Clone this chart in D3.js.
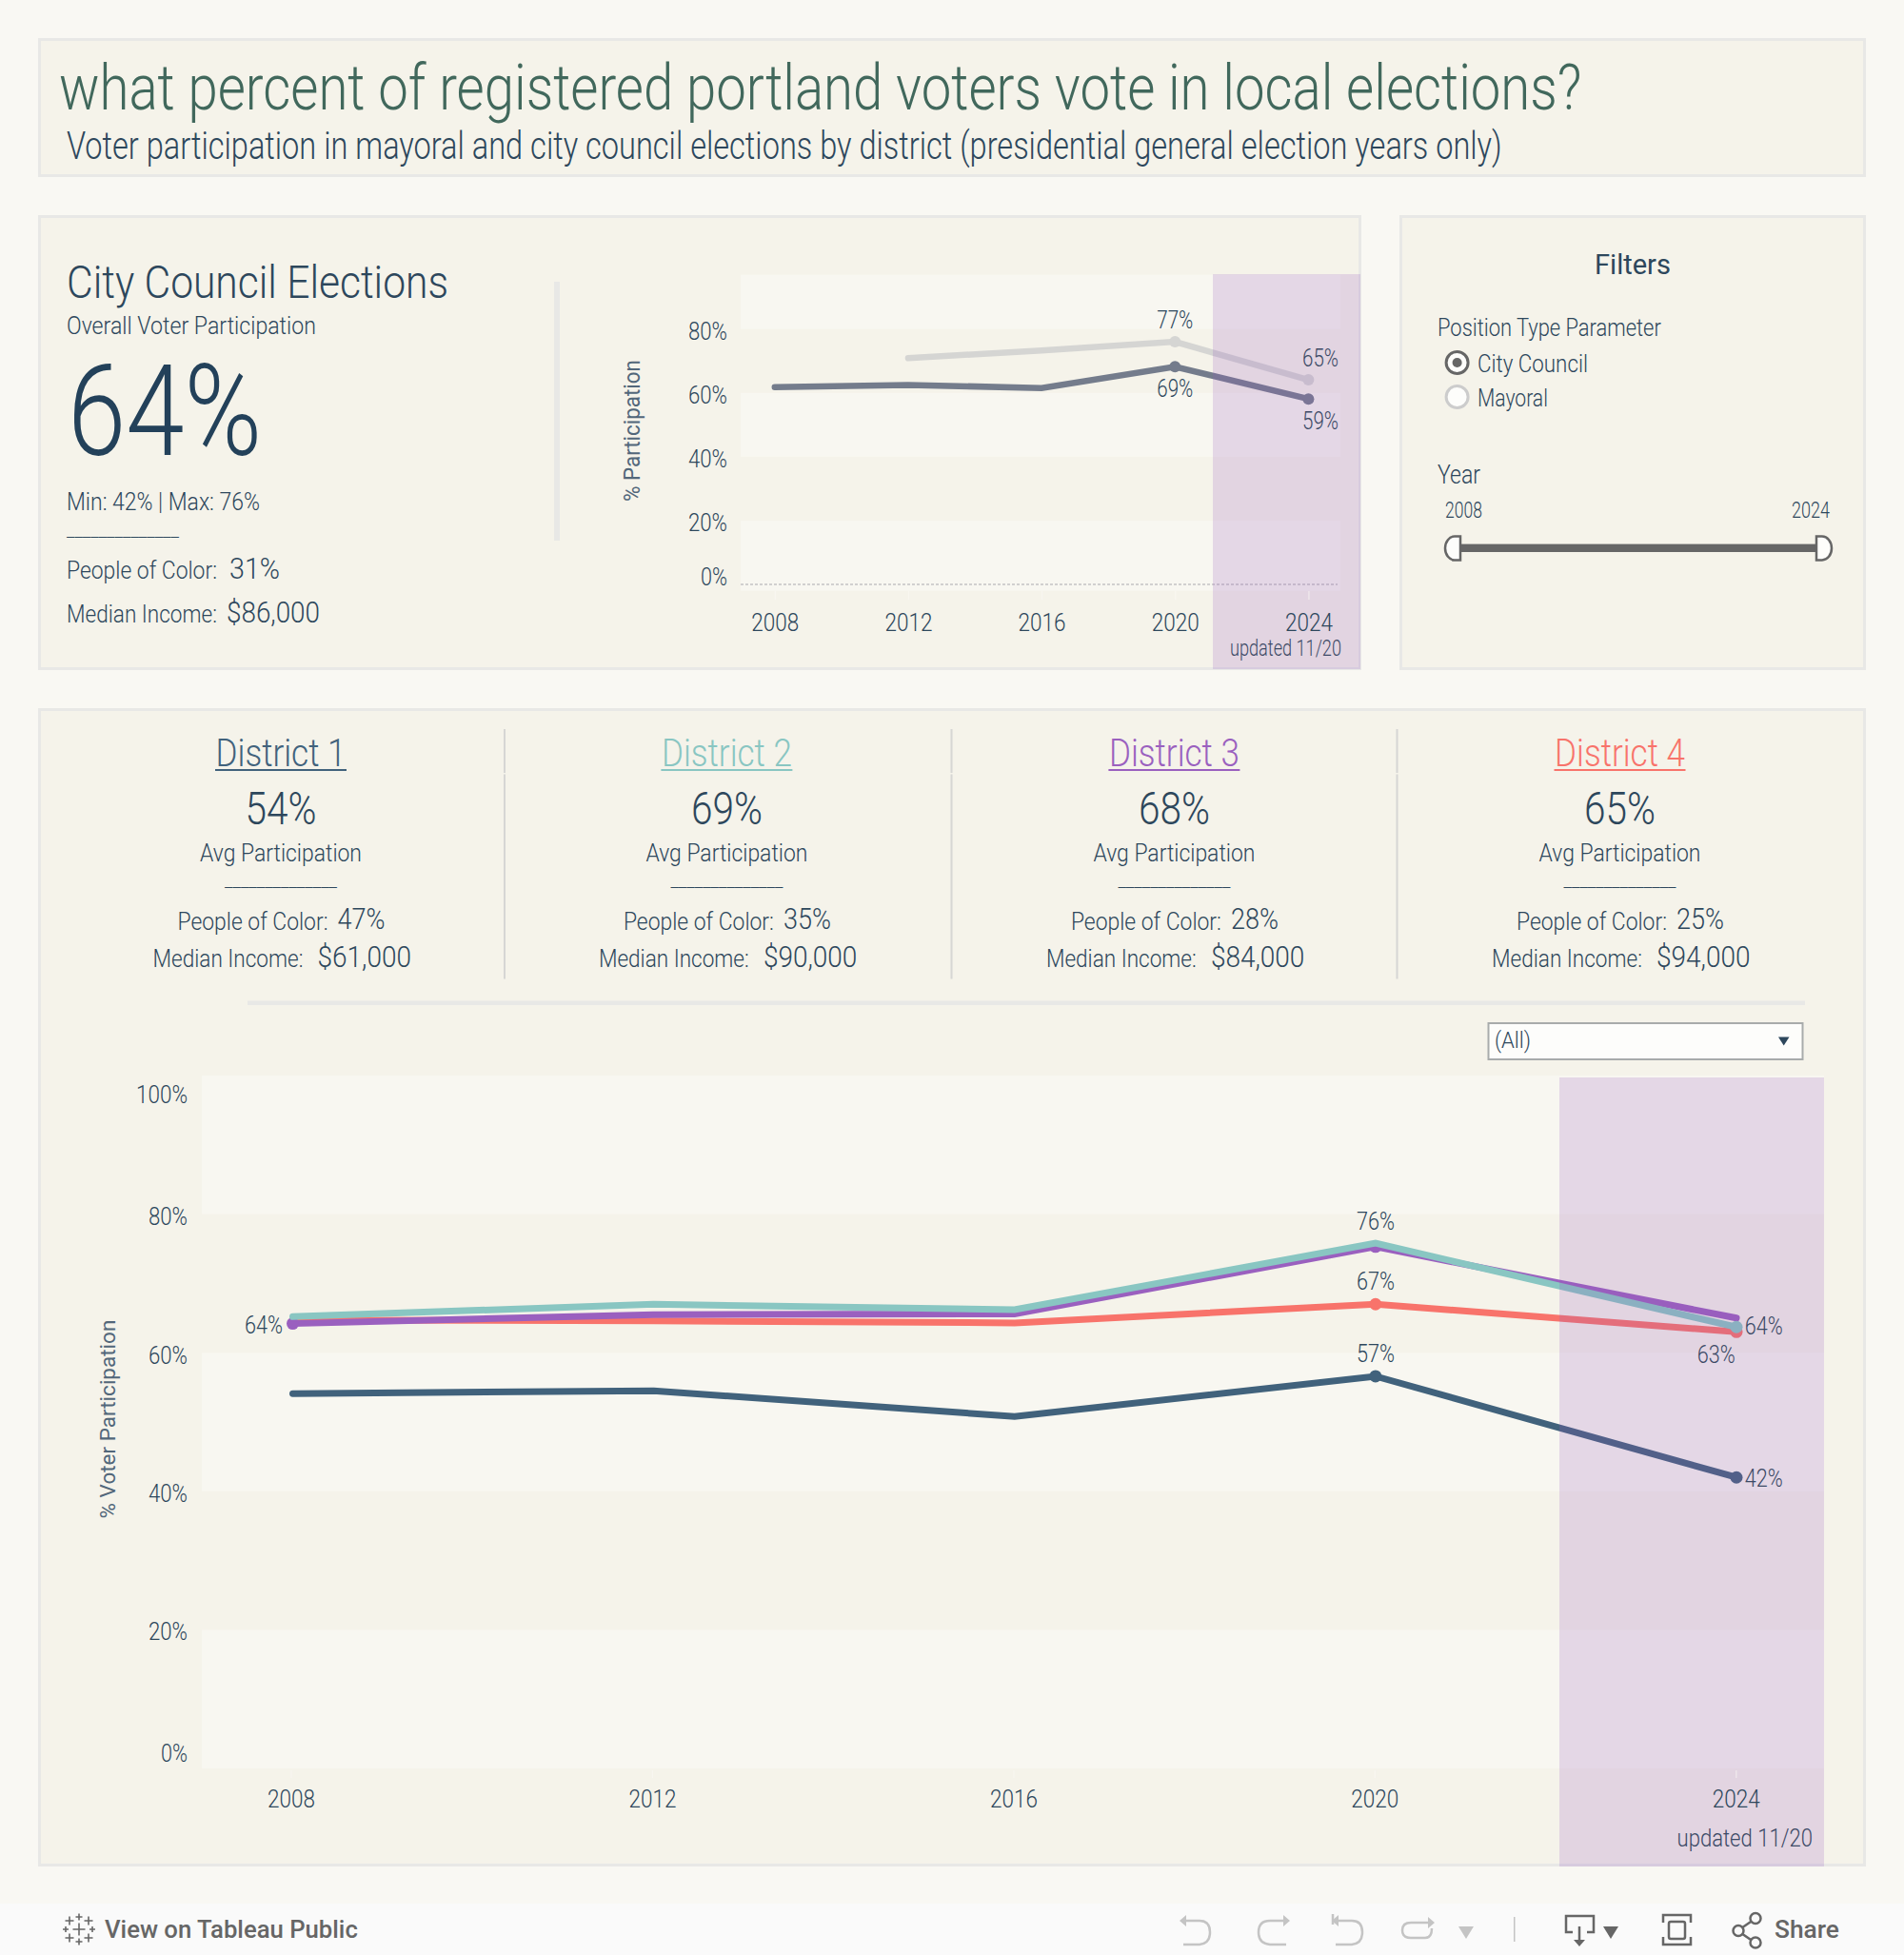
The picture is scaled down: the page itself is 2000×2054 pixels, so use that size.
<!DOCTYPE html>
<html><head><meta charset="utf-8">
<script src="https://cdn.jsdelivr.net/npm/d3@7"></script>
<style>html,body{margin:0;padding:0;background:#f9f8f3}svg{display:block}text{font-family:Roboto,sans-serif;font-weight:300}</style>
</head><body><div id="c"></div>
<script>
const years=[2008,2012,2016,2020,2024];
const district1=[54.1,54.5,50.8,56.6,42.0];
const district2=[65.2,67.0,66.2,75.8,63.7];
const district3=[64.2,65.5,65.6,75.3,65.0];
const district4=[64.7,64.6,64.3,67.0,63.0];
const overallPct=[61.8,62.5,61.5,68.2,58.1];
const mayoralYears=[2012,2016,2020,2024];
const mayoralPct=[70.9,73.3,76.0,64.1];
const districtNames=["District 1","District 2","District 3","District 4"];
const districtColors=["#41627c","#89c6c2","#9a60bf","#f8736b"];
const avgLabels=["54%","69%","68%","65%"];
const pocLabels=["47%","35%","28%","25%"];
const incomeLabels=["$61,000","$90,000","$84,000","$94,000"];
const mainTicks=[0,20,40,60,80,100];
const smallTicks=[0,20,40,60,80];

const INK="#2d475c",BG="#f9f8f3",PANEL="#f5f3ea",LIGHT="#f8f7f1",EDGE="#e8e8e6";
const svg=d3.select("#c").append("svg").attr("width",2000).attr("height",2054);
svg.append("rect").attr("width",2000).attr("height",2054).attr("fill",BG);

// squeeze a text horizontally so it takes up the measured width of the condensed original
function squeeze(node,width){return width/node.getComputedTextLength();}
function T(s,x,y,size,width,o={}){
  const t=svg.append("text").text(s).attr("font-size",size)
    .attr("fill",o.fill||INK).attr("text-anchor",o.anchor||"start");
  if(o.weight)t.style("font-weight",o.weight);
  const k=squeeze(t.node(),width);
  t.attr("transform",`translate(${x},${y})${o.rotate?" rotate(-90)":""} scale(${k},1)`);
  return t;
}
function fitTicks(g,size,widthOf,yOf){
  g.select(".domain").remove();
  g.selectAll(".tick text").attr("font-size",size).attr("fill",INK).attr("font-family","Roboto,sans-serif")
    .attr("x",0).attr("y",0).attr("dy",0)
    .each(function(d){
      d3.select(this).attr("transform",`translate(0,${yOf(d)}) scale(${squeeze(this,widthOf(d))},1)`);
    });
}
function panel(x0,y0,x1,y1){
  svg.append("rect").attr("x",x0+1.5).attr("y",y0+1.5).attr("width",x1-x0-3).attr("height",y1-y0-3)
    .attr("fill",PANEL).attr("stroke",EDGE).attr("stroke-width",3);
}
panel(40,40,1960,186);panel(40,226,1430,704);panel(1470,226,1960,704);panel(40,744,1960,1961);

// header
T("what percent of registered portland voters vote in local elections?",62,115,67,1600,{fill:"#41685c"});
T("Voter participation in mayoral and city council elections by district (presidential general election years only)",70,166.5,40,1508);

// city council block
T("City Council Elections",70,313,48,401);
T("Overall Voter Participation",70,350.5,26,262);
T("64%",71,478,133,204,{fill:"#23415a"});
T("Min: 42% | Max: 76%",70,536,26,203);
T("______________",70,564,16,118);
T("People of Color:",70,607.5,26,158);
T("31%",241,607.5,32,53);
T("Median Income:",70,653.5,26,158);
T("$86,000",238,654,32,98);
svg.append("rect").attr("x",582).attr("y",296).attr("width",6).attr("height",272).attr("fill",EDGE);

// small chart
const xS=d3.scaleLinear().domain([2008,2024]).range([813.8,1374.4]);
const yS=d3.scaleLinear().domain([0,80]).range([614,345.7]);
const sBands=[[97,80],[60,40],[20,-2]];
const gS=svg.append("g");
gS.selectAll("rect").data(sBands).join("rect").attr("x",778).attr("width",630)
  .attr("y",d=>yS(d[0])).attr("height",d=>yS(d[1])-yS(d[0])).attr("fill",LIGHT);
gS.append("line").attr("x1",778).attr("x2",1405).attr("y1",yS(0)).attr("y2",yS(0))
  .attr("stroke","#c4c4c4").attr("stroke-width",1.5).attr("stroke-dasharray","3 2");
const lS=d3.line().x(d=>xS(d[0])).y(d=>yS(d[1]));
const mayPts=d3.zip(mayoralYears,mayoralPct),allPts=d3.zip(years,overallPct);
[[mayPts,"#d5d5d3",[2020,2024]],[allPts,"#747c8c",[2020,2024]]].forEach(([pts,c,dots])=>{
  gS.append("path").attr("d",lS(pts)).attr("fill","none").attr("stroke",c).attr("stroke-width",6.5).attr("stroke-linecap","round");
  gS.selectAll(null).data(pts.filter(p=>dots.includes(p[0]))).join("circle")
    .attr("cx",d=>xS(d[0])).attr("cy",d=>yS(d[1])).attr("r",6).attr("fill",c);
});
const OV="#945cbf";
gS.append("rect").attr("x",1274).attr("y",288).attr("width",155).attr("height",415).attr("fill",OV).attr("opacity",.2);

const axSx=svg.append("g").attr("transform","translate(0,621)")
  .call(d3.axisBottom(xS).tickValues(years).tickFormat(d3.format("d")).tickSize(9));
fitTicks(axSx,26,()=>50,()=>41.5);
axSx.selectAll(".tick line").attr("stroke","#fbfaf6").attr("stroke-width",1.5).attr("opacity",.5);
const sOff={80:10.5,60:11,40:10.5,20:11,0:0.5};
const axSy=svg.append("g").attr("transform","translate(764,0)")
  .call(d3.axisLeft(yS).tickValues(smallTicks).tickFormat(d=>d+"%").tickSize(0).tickPadding(0));
fitTicks(axSy,26,d=>d===0?28:41,d=>sOff[d]);
T("% Participation",672,527,23,149,{rotate:true,fill:"#52677a",weight:400});
T("77%",xS(2020),344.5,25,38,{anchor:"middle"});
T("69%",xS(2020),416.5,25,38,{anchor:"middle"});
T("65%",1387,384.5,25,38,{anchor:"middle",fill:"#3c4a66"});
T("59%",1387,450.5,25,38,{anchor:"middle",fill:"#3c4a66"});
T("updated 11/20",1292,688.5,24,117,{fill:"#3c4a66"});

// filters
T("Filters",1675,287.5,30,80,{weight:400});
T("Position Type Parameter",1510,352.5,25,235);
svg.append("circle").attr("cx",1530.6).attr("cy",381).attr("r",11.5).attr("fill","#fdfdfb").attr("stroke","#666").attr("stroke-width",3);
svg.append("circle").attr("cx",1530.6).attr("cy",381).attr("r",5).attr("fill","#666");
T("City Council",1552,390.5,25,116);
svg.append("circle").attr("cx",1530.6).attr("cy",417).attr("r",11.5).attr("fill","#fdfdfb").attr("stroke","#ccc").attr("stroke-width",3);
T("Mayoral",1552,426.5,25,74);
T("Year",1510,508,27,45);
T("2008",1518,544,23,39);
T("2024",1882,544,23,40);
svg.append("rect").attr("x",1532).attr("y",571.6).attr("width",378).attr("height",8.4).attr("fill","#666");
svg.append("path").attr("d","M1534 563.5H1528A10 12.5 0 0 0 1528 588.5H1534Z").attr("fill","#fdfdfb").attr("stroke","#666").attr("stroke-width",2.5);
svg.append("path").attr("d","M1908 563.5H1914A10 12.5 0 0 1 1914 588.5H1908Z").attr("fill","#fdfdfb").attr("stroke","#666").attr("stroke-width",2.5);

// district cards
const centers=[295,763.4,1233.4,1701.5];
districtNames.forEach((n,i)=>{
  const c=centers[i];
  T(n,c,805,41,137,{anchor:"middle",fill:districtColors[i]});
  svg.append("rect").attr("x",c-69).attr("y",808).attr("width",138).attr("height",2).attr("fill",districtColors[i]);
  T(avgLabels[i],c,866,49,75,{anchor:"middle"});
  T("Avg Participation",c,904.5,26,170,{anchor:"middle"});
  T("______________",c,932,16,118,{anchor:"middle"});
  T("People of Color:",c-108.5,977,26,158);
  T(pocLabels[i],c+59.6,976,32,50);
  T("Median Income:",c-134.5,1016,26,158);
  T(incomeLabels[i],c+38.5,1016,32,98.5);
});
[530,999.5,1467.5].forEach(x=>{
  svg.append("rect").attr("x",x-1).attr("y",766).attr("width",2).attr("height",46).attr("fill","#d6d6d4");
  svg.append("rect").attr("x",x-1).attr("y",813.5).attr("width",2).attr("height",215).attr("fill","#d6d6d4");
});
svg.append("rect").attr("x",260).attr("y",1051.5).attr("width",1636).attr("height",4.5).attr("fill",EDGE);
svg.append("rect").attr("x",1563.5).attr("y",1075).attr("width",330).attr("height",38).attr("fill","#fdfdfb").attr("stroke","#a8abab").attr("stroke-width",2);
T("(All)",1570,1101,24,38);
svg.append("path").attr("d","M1868 1089.5H1879.5L1873.7 1098.5Z").attr("fill",INK);

// main chart
const xM=d3.scaleLinear().domain([2008,2024]).range([307.5,1824]);
const xAxisM=d3.scaleLinear().domain([2008,2024]).range([305.5,1823.3]);
const yM=d3.scaleLinear().domain([0,100]).range([1858,1130]);
const mBands=[[100,80],[60,40],[20,0]];
const gM=svg.append("g");
gM.selectAll("rect").data(mBands).join("rect").attr("x",212).attr("width",1704)
  .attr("y",d=>yM(d[0])).attr("height",d=>yM(d[1])-yM(d[0])).attr("fill",LIGHT);
const lM=d3.line().x((d,i)=>xM(years[i])).y(d=>yM(d));
const order=[[district1,0,[2020,2024]],[district4,3,[2020,2024]],[district3,2,[2008,2020]],[district2,1,[2024]]];
order.forEach(([vals,ci,dots])=>{
  gM.append("path").attr("d",lM(vals)).attr("fill","none").attr("stroke",districtColors[ci]).attr("stroke-width",7).attr("stroke-linecap","round");
  gM.selectAll(null).data(dots).join("circle").attr("cx",d=>xM(d)).attr("cy",d=>yM(vals[years.indexOf(d)])).attr("r",6.5).attr("fill",districtColors[ci]);
});
gM.append("rect").attr("x",1638).attr("y",1132).attr("width",278).attr("height",829).attr("fill",OV).attr("opacity",.2);

const axMx=svg.append("g").attr("transform","translate(0,1860)")
  .call(d3.axisBottom(xAxisM).tickValues(years).tickFormat(d3.format("d")).tickSize(8));
fitTicks(axMx,26,()=>50,()=>38.5);
axMx.selectAll(".tick line").attr("stroke","#fbfaf6").attr("stroke-width",1.5).attr("opacity",.5);
const mOff={100:28,80:10.5,60:11,40:10.5,20:10,0:-8};
const axMy=svg.append("g").attr("transform","translate(197,0)")
  .call(d3.axisLeft(yM).tickValues(mainTicks).tickFormat(d=>d+"%").tickSize(0).tickPadding(0));
fitTicks(axMy,26,d=>d===100?54:d===0?28:41,d=>mOff[d]);
T("% Voter Participation",120.5,1595.5,22,209,{rotate:true,fill:"#52677a",weight:400});
T("64%",277,1400.5,26,40,{anchor:"middle"});
T("76%",xM(2020),1292,26,40,{anchor:"middle"});
T("67%",xM(2020),1354.5,26,40,{anchor:"middle"});
T("57%",xM(2020),1430.5,26,40,{anchor:"middle"});
T("64%",1832.7,1402,26,40,{fill:"#3c4a66"});
T("63%",1782.7,1432,26,40,{fill:"#3c4a66"});
T("42%",1832.7,1562,26,40,{fill:"#3c4a66"});
T("updated 11/20",1761.5,1939.5,25,142.5,{fill:"#3c4a66"});

// footer
svg.append("rect").attr("y",2000).attr("width",2000).attr("height",54).attr("fill","#fafafa");
const logo=[[83,2027,6.5],[83,2014,3.5],[83,2040,3.5],[69,2027,3],[97,2027,3],[73,2018,4.5],[93,2018,4.5],[73,2036,4.5],[93,2036,4.5]];
svg.append("path").attr("d",logo.map(([x,y,a])=>`M${x-a} ${y}H${x+a}M${x} ${y-a}V${y+a}`).join("")).attr("stroke","#666").attr("stroke-width",1.6).attr("fill","none");
T("View on Tableau Public",110,2036,25,266,{fill:"#666",weight:500});
T("Share",1864,2036,25,68,{fill:"#666",weight:500});
const ic=svg.append("g").attr("fill","none").attr("stroke","#c4c4c4").attr("stroke-width",2.5);
ic.append("path").attr("d","M1243 2018H1260Q1271 2018 1271 2030T1260 2043H1243");
ic.append("path").attr("d","M1351 2018H1334Q1322 2018 1322 2030T1334 2043H1351");
ic.append("path").attr("d","M1403 2018H1420Q1431 2018 1431 2030T1420 2043H1403M1400 2011V2022");
ic.append("path").attr("d","M1505 2020H1482Q1473 2020 1473 2028T1482 2036H1497Q1504 2036 1504 2026");
svg.append("path").attr("d","M1246 2012V2024L1239 2018ZM1348 2012V2024L1355 2018ZM1406 2012V2024L1399 2018ZM1500 2014V2026L1507 2020Z").attr("fill","#c4c4c4");
svg.append("path").attr("d","M1532 2024H1548L1540 2037Z").attr("fill","#c4c4c4");
svg.append("rect").attr("x",1590).attr("y",2014).attr("width",1.5).attr("height",26).attr("fill","#c4c4c4");
const ic2=svg.append("g").attr("fill","none").attr("stroke","#666").attr("stroke-width",2.5);
ic2.append("path").attr("d","M1652 2030H1645V2013H1674V2030H1667M1659 2024V2040");
svg.append("path").attr("d","M1653 2038H1665L1659 2045Z").attr("fill","#666");
svg.append("path").attr("d","M1684 2024H1700L1692 2037Z").attr("fill","#666");
ic2.append("path").attr("d","M1747 2020V2012H1776V2020M1747 2035V2043H1776V2035");
ic2.append("rect").attr("x",1753).attr("y",2019).attr("width",17).attr("height",18).attr("rx",2);
ic2.append("path").attr("d","M1826 2028L1842 2017M1826 2029L1842 2040");
[[1826,2028.5],[1844,2015.5],[1844,2041]].forEach(([x,y])=>ic2.append("circle").attr("cx",x).attr("cy",y).attr("r",5.5).attr("fill","#fafafa"));
</script></body></html>
